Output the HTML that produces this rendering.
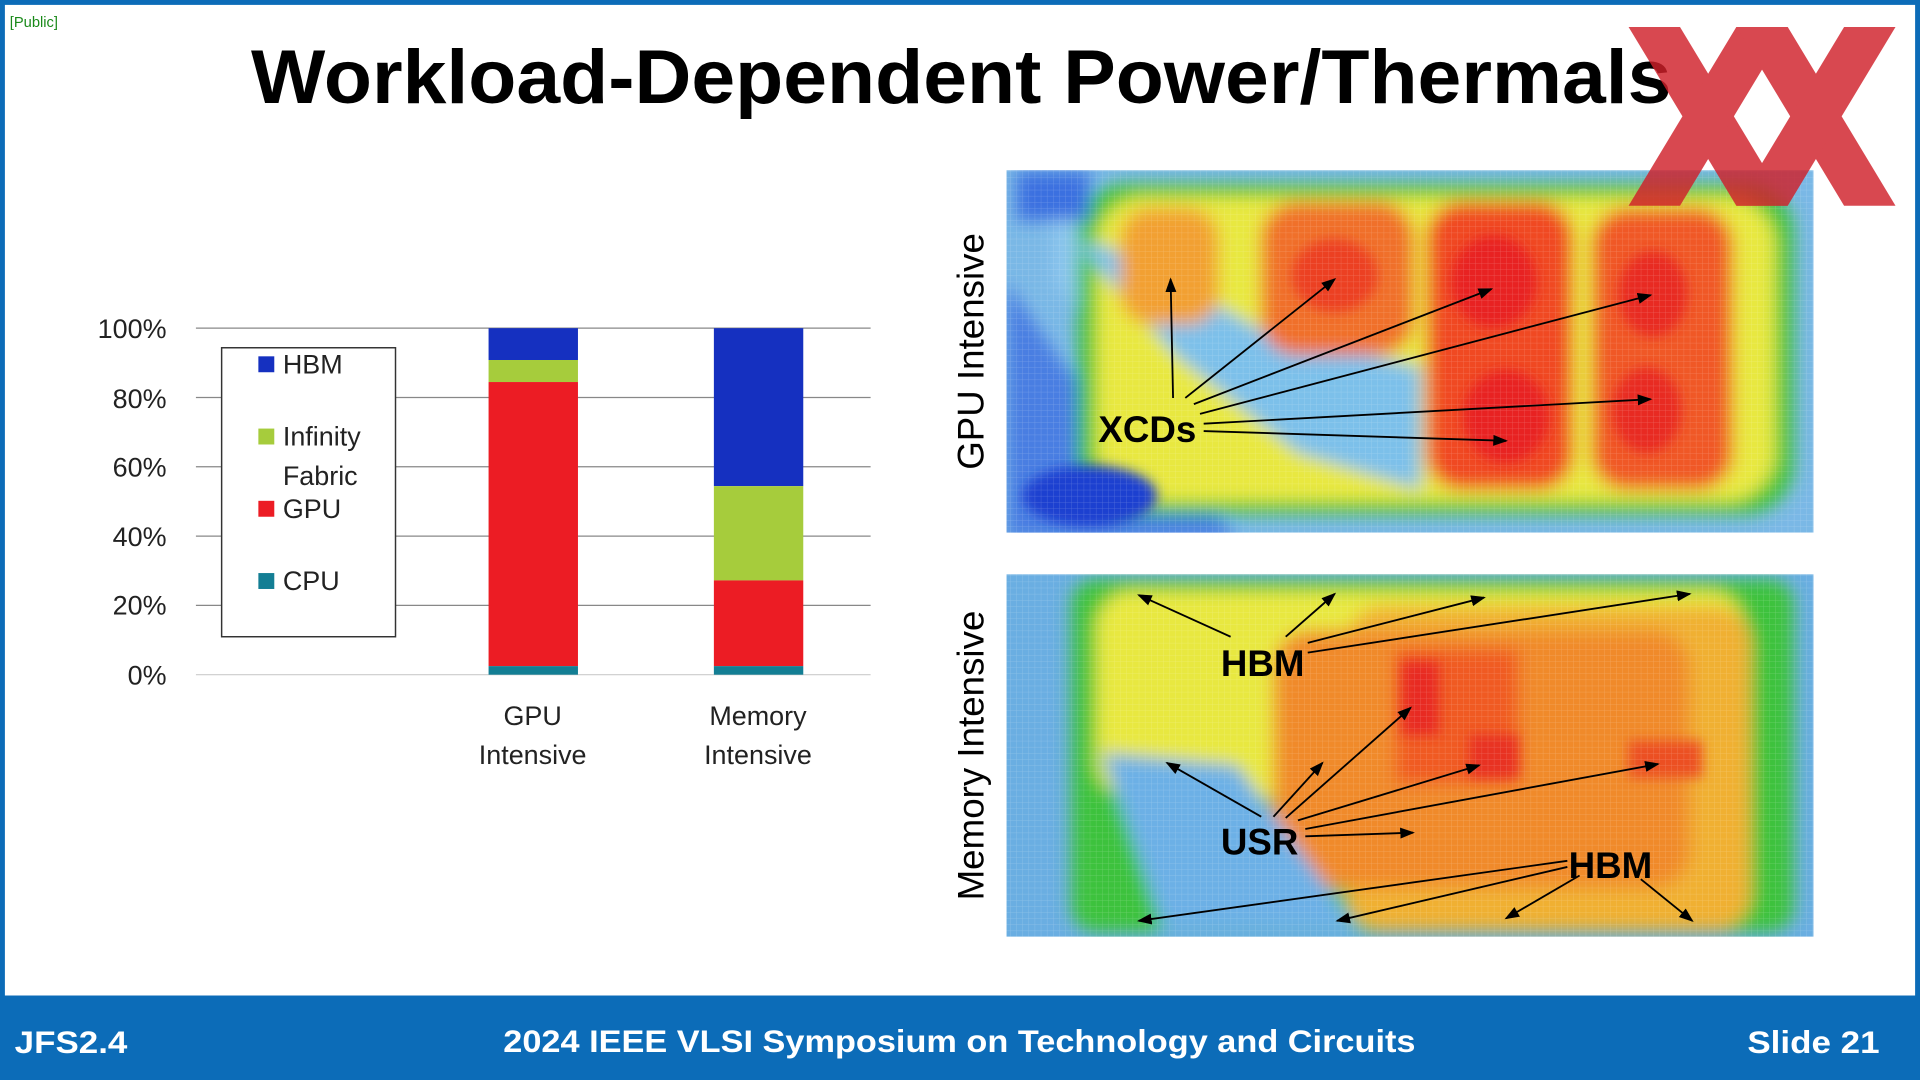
<!DOCTYPE html>
<html><head><meta charset="utf-8"><style>html,body{margin:0;padding:0;background:#fff;overflow:hidden}svg{display:block}</style></head>
<body>
<svg width="1920" height="1080" viewBox="0 0 1568 882" xmlns="http://www.w3.org/2000/svg" font-family="Liberation Sans, DejaVu Sans, sans-serif">
<defs>
<filter id="b" x="-20%" y="-20%" width="140%" height="140%"><feGaussianBlur stdDeviation="7"/></filter>
<filter id="b2" x="-20%" y="-20%" width="140%" height="140%"><feGaussianBlur stdDeviation="5"/></filter>
<marker id="ar" markerWidth="8" markerHeight="8" refX="7" refY="4" orient="auto"><path d="M0,1 L8,4 L0,7z" fill="#000"/></marker>
<pattern id="grid" width="5" height="5" patternUnits="userSpaceOnUse"><path d="M5,0 L0,0 0,5" fill="none" stroke="#fff" stroke-opacity="0.25" stroke-width="0.6"/></pattern>
<clipPath id="c1"><rect x="822" y="139" width="659" height="296"/></clipPath>
<clipPath id="c2"><rect x="822" y="469" width="659" height="296"/></clipPath>
</defs>
<rect width="1568" height="882" fill="#fff"/>
<rect x="0" y="0" width="1568" height="882" fill="none" stroke="#0c6cb8" stroke-width="8"/>
<rect x="0" y="813" width="1568" height="69" fill="#0c6cb8"/>
<text x="8" y="22" font-size="12" fill="#1a8a1a">[Public]</text>
<text x="205" y="84" font-size="62" font-weight="bold" textLength="1160" lengthAdjust="spacingAndGlyphs">Workload-Dependent Power/Thermals</text>
<!-- heatmap 1 -->
<g clip-path="url(#c1)">
<rect x="822" y="139" width="659" height="296" fill="#7ab8e6"/>
<g filter="url(#b)">
<polygon points="822,230 870,300 960,380 1010,440 822,440" fill="#4a7ee2"/>
<polygon points="860,230 940,320 1040,400 1150,410 1150,260 1010,200 900,170 860,180" fill="#8cc6ee"/>
<rect x="880" y="150" width="585" height="270" rx="40" fill="#3cc23c"/>
<rect x="895" y="160" width="555" height="250" rx="40" fill="#e8e840"/>
<polygon points="880,200 960,290 1060,370 1160,400 1160,300 1030,270 960,230 900,200" fill="#7cc0ea"/>
<rect x="915" y="170" width="80" height="95" rx="25" fill="#f2a030"/>
<rect x="1030" y="165" width="125" height="125" rx="30" fill="#f0702a"/>
<rect x="1165" y="165" width="120" height="235" rx="30" fill="#f04a24"/>
<rect x="1300" y="170" width="115" height="230" rx="30" fill="#f05826"/>
<rect x="830" y="140" width="60" height="40" fill="#3a70e0"/>
</g>
<g filter="url(#b2)">
<ellipse cx="1220" cy="230" rx="35" ry="38" fill="#e82020"/>
<ellipse cx="1230" cy="340" rx="35" ry="38" fill="#e82020"/>
<ellipse cx="1350" cy="240" rx="28" ry="35" fill="#e82a20"/>
<ellipse cx="1345" cy="335" rx="28" ry="35" fill="#e82a20"/>
<ellipse cx="1090" cy="225" rx="35" ry="30" fill="#ec4020"/>
<ellipse cx="890" cy="405" rx="55" ry="25" fill="#1a40d0"/>
</g>
<rect x="822" y="139" width="659" height="296" fill="url(#grid)"/>
</g>
<!-- heatmap 2 -->
<g clip-path="url(#c2)">
<rect x="822" y="469" width="659" height="296" fill="#6aaee2"/>
<g filter="url(#b)">
<rect x="875" y="473" width="590" height="288" rx="20" fill="#3cc23c"/>
<rect x="895" y="482" width="530" height="170" rx="30" fill="#e8e840"/>
<rect x="1100" y="495" width="330" height="265" rx="30" fill="#f0b030"/>
<rect x="1040" y="515" width="340" height="210" rx="30" fill="#f08a2a"/>
<rect x="1140" y="530" width="100" height="110" fill="#f05a24"/>
<polygon points="900,615 1010,625 1110,760 950,760" fill="#6cb0e6"/>
</g>
<g filter="url(#b2)">
<rect x="1145" y="540" width="30" height="60" fill="#e82a20"/>
<rect x="1200" y="600" width="40" height="35" fill="#e83020"/>
<rect x="1330" y="605" width="60" height="30" fill="#ec5020"/>
</g>
<rect x="822" y="469" width="659" height="296" fill="url(#grid)"/>
</g>
<!-- XX logo -->
<g fill="#d0202a" opacity="0.82">
<polygon points="1330,22 1372,22 1460,168 1418,168"/>
<polygon points="1418,22 1460,22 1372,168 1330,168"/>
<polygon points="1418,22 1460,22 1548,168 1506,168"/>
<polygon points="1506,22 1548,22 1460,168 1418,168"/>
</g>
<!-- chart -->
<g stroke="#888" stroke-width="1">
<line x1="160" y1="268" x2="711" y2="268"/><line x1="160" y1="324.6" x2="711" y2="324.6"/>
<line x1="160" y1="381.2" x2="711" y2="381.2"/><line x1="160" y1="437.8" x2="711" y2="437.8"/>
<line x1="160" y1="494.4" x2="711" y2="494.4"/><line x1="160" y1="551" x2="711" y2="551" stroke="#ccc"/>
</g>
<g font-size="22" text-anchor="end" fill="#222">
<text x="136" y="276">100%</text><text x="136" y="333">80%</text><text x="136" y="389">60%</text>
<text x="136" y="446">40%</text><text x="136" y="502">20%</text><text x="136" y="559">0%</text>
</g>
<rect x="399" y="268" width="73" height="26" fill="#1530c0"/>
<rect x="399" y="294" width="73" height="18" fill="#a6cc3c"/>
<rect x="399" y="312" width="73" height="232" fill="#ec1c24"/>
<rect x="399" y="544" width="73" height="7" fill="#137e94"/>
<rect x="583" y="268" width="73" height="129" fill="#1530c0"/>
<rect x="583" y="397" width="73" height="77" fill="#a6cc3c"/>
<rect x="583" y="474" width="73" height="70" fill="#ec1c24"/>
<rect x="583" y="544" width="73" height="7" fill="#137e94"/>
<g font-size="22" text-anchor="middle" fill="#222">
<text x="435" y="592">GPU</text><text x="435" y="624">Intensive</text>
<text x="619" y="592">Memory</text><text x="619" y="624">Intensive</text>
</g>
<rect x="181" y="284" width="142" height="236" fill="#fff" stroke="#333" stroke-width="1.2"/>
<g font-size="22" fill="#222">
<rect x="211" y="291" width="13" height="13" fill="#1530c0"/><text x="231" y="305">HBM</text>
<rect x="211" y="350" width="13" height="13" fill="#a6cc3c"/><text x="231" y="364">Infinity</text><text x="231" y="396">Fabric</text>
<rect x="211" y="409" width="13" height="13" fill="#ec1c24"/><text x="231" y="423">GPU</text>
<rect x="211" y="468" width="13" height="13" fill="#137e94"/><text x="231" y="482">CPU</text>
</g>
<!-- annotations -->
<g stroke="#000" stroke-width="1.5" fill="none" marker-end="url(#ar)">
<line x1="958" y1="325" x2="956" y2="228"/><line x1="968" y1="325" x2="1090" y2="228"/>
<line x1="975" y1="330" x2="1218" y2="236"/><line x1="980" y1="338" x2="1348" y2="241"/>
<line x1="983" y1="346" x2="1348" y2="326"/><line x1="983" y1="352" x2="1230" y2="360"/>
<line x1="1005" y1="520" x2="930" y2="486"/><line x1="1050" y1="520" x2="1090" y2="485"/>
<line x1="1068" y1="525" x2="1212" y2="488"/><line x1="1068" y1="533" x2="1380" y2="485"/>
<line x1="1030" y1="667" x2="953" y2="623"/><line x1="1040" y1="667" x2="1080" y2="623"/>
<line x1="1050" y1="668" x2="1152" y2="578"/><line x1="1060" y1="670" x2="1208" y2="625"/>
<line x1="1066" y1="677" x2="1354" y2="624"/><line x1="1066" y1="683" x2="1154" y2="680"/>
<line x1="1280" y1="703" x2="930" y2="752"/><line x1="1280" y1="708" x2="1092" y2="752"/>
<line x1="1290" y1="715" x2="1230" y2="750"/><line x1="1340" y1="718" x2="1382" y2="752"/>
</g>
<g font-size="30" font-weight="bold" fill="#000">
<text x="897" y="361">XCDs</text>
<text x="997" y="552">HBM</text>
<text x="997" y="698">USR</text>
<text x="1281" y="717">HBM</text>
</g>
<g font-size="30" fill="#000" text-anchor="middle">
<text transform="translate(803,287) rotate(-90)">GPU Intensive</text>
<text transform="translate(803,617) rotate(-90)">Memory Intensive</text>
</g>
<g font-size="26" font-weight="bold" fill="#fff">
<text x="12" y="860" textLength="92" lengthAdjust="spacingAndGlyphs">JFS2.4</text>
<text x="411" y="859" textLength="745" lengthAdjust="spacingAndGlyphs">2024 IEEE VLSI Symposium on Technology and Circuits</text>
<text x="1427" y="860" textLength="108" lengthAdjust="spacingAndGlyphs">Slide 21</text>
</g>
</svg>
</body></html>
